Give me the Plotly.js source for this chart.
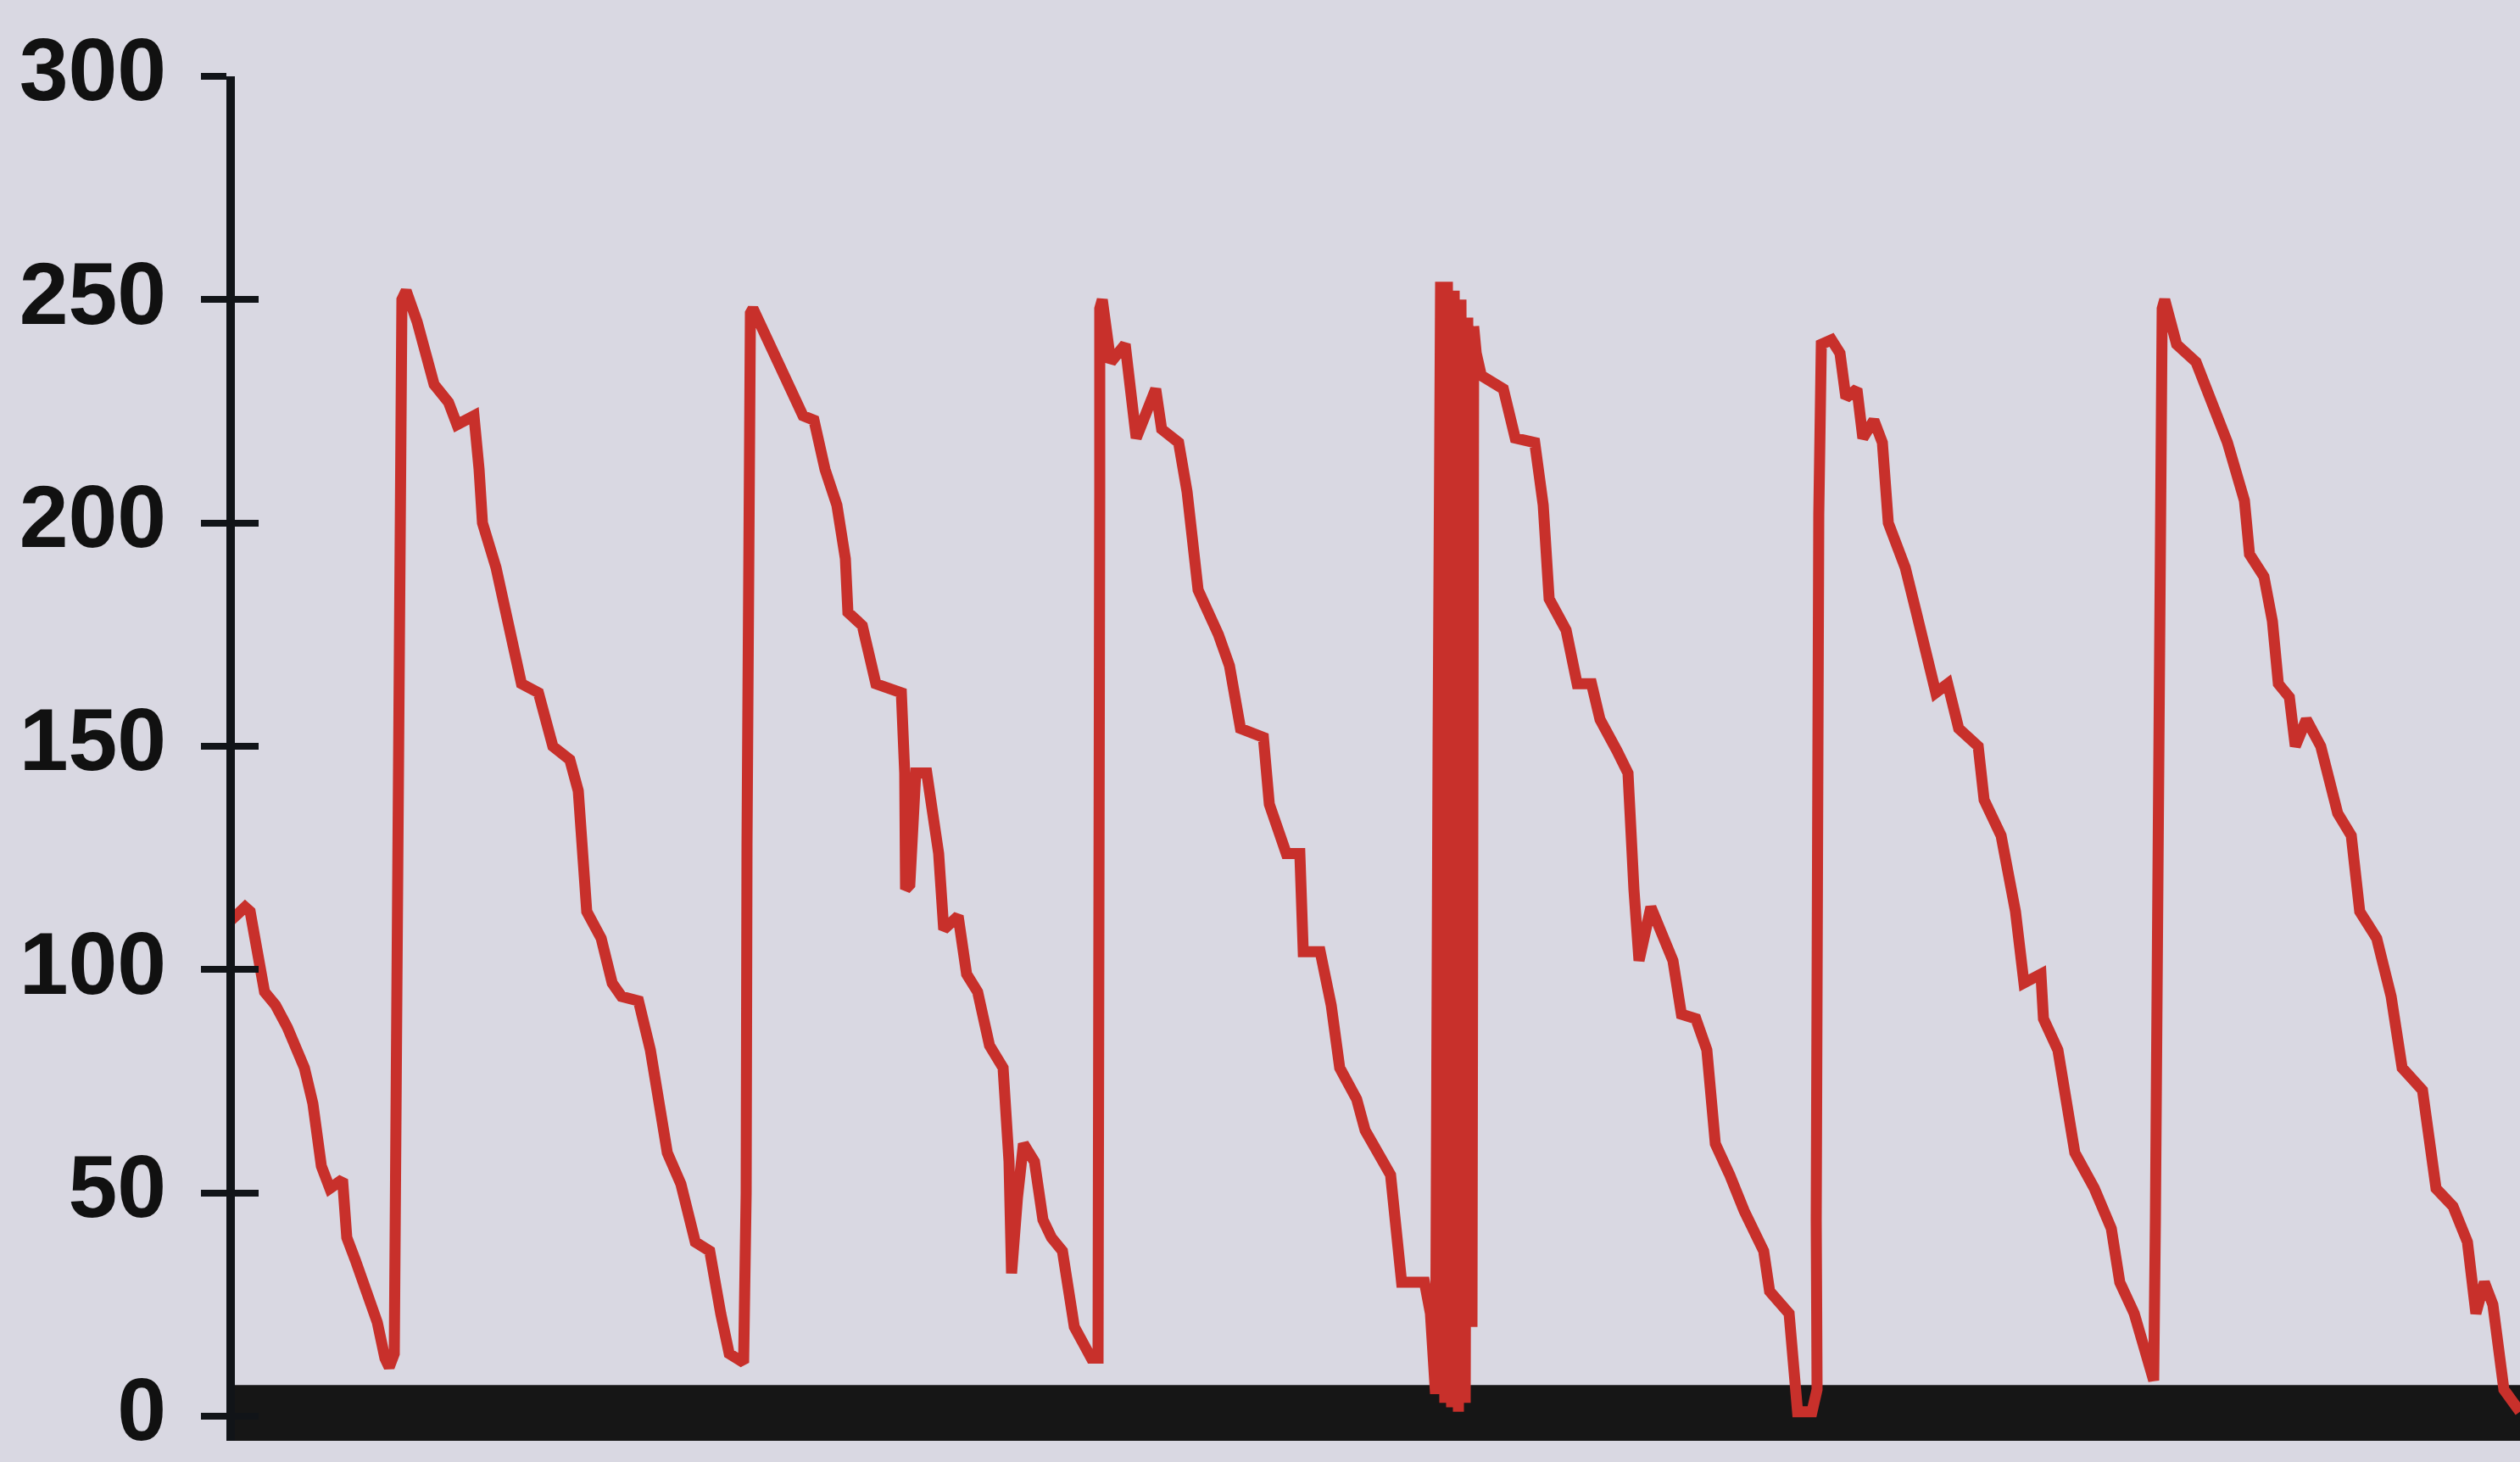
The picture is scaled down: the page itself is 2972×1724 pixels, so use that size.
<!DOCTYPE html>
<html>
<head>
<meta charset="utf-8">
<script src="https://cdn.plot.ly/plotly-3.0.1.min.js"></script>
<style>
  html, body { margin: 0; padding: 0; background: #d9d8e2; }
  #chart { width: 2972px; height: 1724px; }
</style>
</head>
<body>
<div id="chart"></div>
<script>
// Time (arbitrary units along the horizontal axis)
const timeValues = [
  0.0, 1.7, 2.3, 4.0, 5.3, 6.7, 8.7, 9.7, 10.7, 11.7, 13.2, 13.7, 14.7, 16.0, 17.3, 18.2, 18.7, 19.3,
  19.5, 19.7, 20.0, 20.2, 20.7, 22.0, 24.0, 25.7, 26.7, 28.7, 29.3, 29.7, 31.3, 33.0, 34.3, 36.3, 38.0,
  40.0, 41.0, 42.0, 43.7, 45.0, 46.1, 48.1, 49.5, 51.5, 53.1, 54.8, 56.5, 57.8, 58.8, 60.5,
  60.8, 60.9, 61.1, 61.3, 61.6, 63.5, 65.5, 67.5, 68.8, 70.1, 71.5, 72.5, 72.8, 74.5, 76.1, 78.5, 79.1,
  79.5, 79.6, 80.1, 80.8, 82.1, 83.5, 84.1, 85.8, 86.8, 88.1, 89.5, 90.8, 91.1, 91.8, 92.1, 92.8, 93.5,
  94.8, 95.8, 96.8, 98.1, 99.5, 100.5, 101.5, 102.3, 102.4, 102.3, 102.5, 102.5, 102.8, 103.8, 105.5,
  106.8, 107.8, 109.1, 109.8, 111.8, 112.8, 114.1, 116.5, 117.8, 119.1, 121.8, 122.5, 124.5, 126.1,
  126.5, 128.5, 129.8, 130.8, 132.8, 133.8, 135.8, 136.8, 138.1, 140.8, 141.5, 142.1,
  142.4, 142.7, 143.0, 143.2, 143.5, 143.8, 144.0, 144.3, 144.6, 144.8, 145.1, 145.4, 145.6, 145.9,
  146.2, 146.4, 146.6, 146.9,
  147.5, 150.1, 151.5, 153.8, 154.8, 155.5, 157.5, 158.8, 160.5, 161.5, 163.5, 164.8, 165.5, 166.1,
  167.5, 168.5, 170.1, 171.1, 172.8, 174.1, 175.1, 176.8, 178.5, 180.8, 181.5, 183.8, 184.5, 184.8,
  186.5, 187.1, 187.0, 187.0, 187.3, 187.6, 188.8, 189.8, 190.5, 191.8, 192.5, 193.8, 194.8, 195.5,
  197.5, 198.8, 200.1, 201.1, 202.5, 203.8, 206.1, 206.8, 208.8, 210.5, 211.5, 213.5, 213.8, 215.5,
  217.5, 219.8, 221.8, 222.8, 224.5, 225.8, 226.1, 226.8, 227.0, 227.3, 227.6, 227.8, 228.1, 229.5,
  231.8, 233.5, 235.5, 237.5, 238.1, 239.8, 240.8, 241.5, 242.8, 243.5, 244.8, 246.5, 248.5, 250.1,
  251.1, 253.1, 254.8, 256.1, 258.5, 260.1, 262.1, 263.8, 264.8, 265.8, 266.8, 268.1, 270.0
];

const levelValues = [
  111, 114, 113, 95, 92, 87, 78, 70, 56, 51, 53, 40, 35, 28, 21, 13, 11, 14,
  54, 132, 212, 250, 252, 245, 231, 227, 222, 224, 212, 200, 190, 175, 164, 162, 150,
  147, 140, 113, 107, 97, 94, 93, 82, 59, 52, 39, 37, 23, 14, 12,
  50, 128, 207, 247, 248, 240, 233, 224, 223, 212, 204, 192, 180, 177, 164, 162, 162,
  144, 118, 119, 144, 144, 126, 109, 112, 99, 95, 83, 78, 78, 57, 32, 49, 61,
  57, 44, 40, 37, 20, 16, 13, 13, 51, 130, 207, 248, 250, 236, 240,
  219, 224, 230, 221, 218, 207, 185, 175, 168, 154, 152, 137, 126, 126,
  104, 104, 92, 78, 71, 64, 58, 54, 30, 30, 23, 5,
  150, 254, 60, 3, 254, 120, 2, 252, 40, 1, 250, 100, 3, 246,
  130, 20, 244, 238,
  233, 230, 219, 218, 204, 183, 176, 164, 164, 156, 149, 144, 118, 102,
  114, 109, 102, 90, 89, 82, 61, 54, 46, 37, 28, 23, 9, 1,
  1, 6, 44, 123, 202, 240, 241, 238, 228, 230, 219, 223, 218, 200,
  190, 180, 171, 162, 164, 154, 150, 138, 130, 113, 97, 99, 89, 82,
  59, 51, 42, 30, 23, 15, 13, 8, 44, 126, 209, 248, 250, 240,
  236, 228, 218, 205, 193, 188, 178, 164, 161, 150, 156, 150, 135, 130,
  113, 107, 94, 78, 73, 51, 47, 39, 23, 30, 25, 6, 1
];

// Y-axis tick values and labels
const yTickValues = [0, 50, 100, 150, 200, 250, 300];
const yTickLabels = ['0', '50', '100', '150', '200', '250', '300'];

const yRange = [-5.5, 300];
const xRange = [0.5, 270];

const traces = [
  {
    x: timeValues,
    y: levelValues,
    type: 'scatter',
    mode: 'lines',
    line: { color: '#c8302b', width: 13, shape: 'linear' },
    hoverinfo: 'skip',
    showlegend: false
  },
  {
    x: [timeValues[0]],
    y: [levelValues[0]],
    yaxis: 'y2',
    type: 'scatter',
    mode: 'markers',
    marker: { opacity: 0 },
    hoverinfo: 'skip',
    showlegend: false
  }
];

const layout = {
  width: 2972,
  height: 1724,
  margin: { l: 277, r: 0, t: 90, b: 25, pad: 0 },
  paper_bgcolor: '#d9d8e2',
  plot_bgcolor: '#d9d8e2',
  showlegend: false,
  xaxis: {
    range: xRange,
    showgrid: false,
    zeroline: false,
    showline: false,
    ticks: '',
    showticklabels: false,
    fixedrange: true
  },
  yaxis: {
    range: yRange,
    tickmode: 'array',
    tickvals: yTickValues,
    ticktext: yTickLabels,
    ticks: 'outside',
    ticklen: 30,
    tickwidth: 8,
    tickcolor: '#111418',
    showline: true,
    linewidth: 10,
    linecolor: '#111418',
    showgrid: false,
    zeroline: false,
    ticklabelstandoff: 20,
    ticklabelshift: -8,
    ticklabeloverflow: 'allow',
    tickfont: { family: 'Liberation Sans, Arial, sans-serif', size: 104, color: '#111111', weight: 'bold' },
    fixedrange: true
  },
  yaxis2: {
    range: yRange,
    overlaying: 'y',
    anchor: 'x',
    side: 'left',
    tickmode: 'array',
    tickvals: yTickValues,
    ticks: 'inside',
    ticklen: 28,
    tickwidth: 8,
    tickcolor: '#111418',
    showticklabels: false,
    showline: false,
    showgrid: false,
    zeroline: false,
    fixedrange: true
  },
  shapes: [
    {
      type: 'rect',
      layer: 'below',
      xref: 'paper', x0: 0, x1: 1,
      yref: 'y', y0: -5.5, y1: 7,
      fillcolor: '#161616',
      line: { width: 0 }
    }
  ]
};

Plotly.newPlot('chart', traces, layout, { displayModeBar: false, staticPlot: true });
</script>
</body>
</html>
